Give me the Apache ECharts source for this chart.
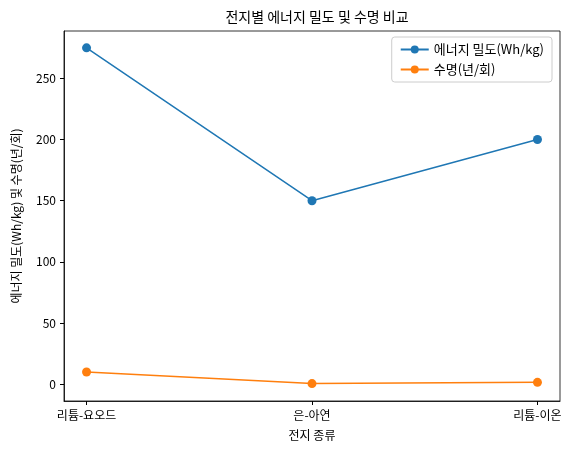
<!DOCTYPE html>
<html>
<head>
<meta charset="utf-8">
<script src="https://cdn.jsdelivr.net/npm/echarts@6/dist/echarts.min.js"></script>
<style>html,body{margin:0;padding:0;background:#fff}#chart{width:574px;height:454px}</style>
</head>
<body>
<div id="chart"></div>
<script>
const categories = ['리튬-요오드', '은-아연', '리튬-이온'];
const energyDensity = [275, 150, 200];
const lifetime = [10, 0.5, 1.5];
const yTicks = [0, 50, 100, 150, 200, 250];

const font = '"Noto Sans CJK KR", "Noto Sans", sans-serif';
const chart = echarts.init(document.getElementById('chart'));
const axisLine = { show: true, onZero: false, lineStyle: { color: '#000', width: 0.8 } };

chart.setOption({
	animation: false,
	textStyle: { fontFamily: font },
	title: {
		text: '전지별 에너지 밀도 및 수명 비교',
		left: 312, top: 5, textAlign: 'center',
		textStyle: { fontSize: 14, fontWeight: 'normal', color: '#000', fontFamily: font }
	},
	legend: {
		right: 22, top: 37, orient: 'vertical', itemGap: 7,
		backgroundColor: '#fff', borderColor: '#ccc', borderWidth: 1, borderRadius: 3, padding: [6, 8],
		itemWidth: 28, itemHeight: 10,
		textStyle: { fontSize: 13, color: '#000', fontFamily: font }
	},
	grid: { left: 64, right: 14, top: 31, bottom: 53, show: true, borderColor: '#000', borderWidth: 0.8 },
	xAxis: {
		type: 'value', min: -0.1, max: 2.1,
		name: '전지 종류', nameLocation: 'middle', nameGap: 28,
		nameTextStyle: { fontSize: 12, color: '#000' },
		splitLine: { show: false }, axisLine,
		axisTick: { customValues: [0, 1, 2], length: 4, lineStyle: { color: '#000' } },
		axisLabel: { customValues: [0, 1, 2], formatter: v => categories[Math.round(v)], color: '#000', fontSize: 12 }
	},
	yAxis: {
		type: 'value', min: -13.75, max: 288.75,
		name: '에너지 밀도(Wh/kg) 및 수명(년/회)', nameLocation: 'middle', nameGap: 42,
		nameTextStyle: { fontSize: 12, color: '#000' },
		splitLine: { show: false }, axisLine,
		axisTick: { customValues: yTicks, length: 4, lineStyle: { color: '#000' } },
		axisLabel: { customValues: yTicks, color: '#000', fontSize: 12 }
	},
	series: [
		{ name: '에너지 밀도(Wh/kg)', type: 'line', data: energyDensity.map((v, i) => [i, v]),
		  color: '#1f77b4', symbol: 'circle', symbolSize: 9, lineStyle: { width: 1.5 } },
		{ name: '수명(년/회)', type: 'line', data: lifetime.map((v, i) => [i, v]),
		  color: '#ff7f0e', symbol: 'circle', symbolSize: 9, lineStyle: { width: 1.5 } }
	]
});
</script>
</body>
</html>
